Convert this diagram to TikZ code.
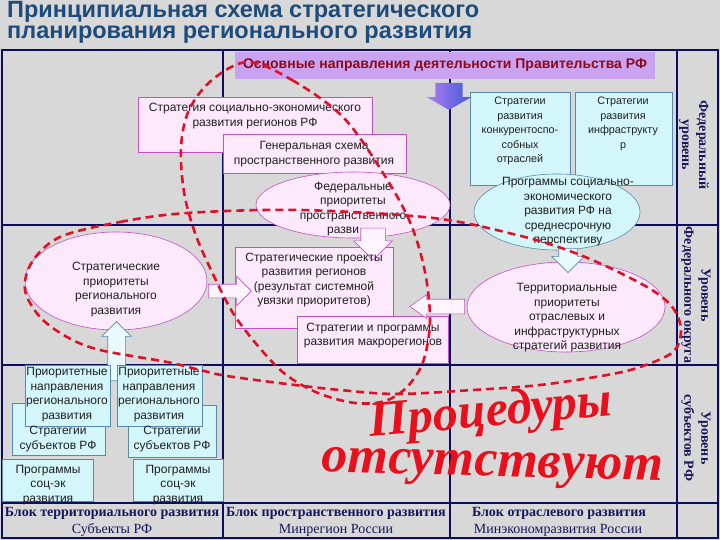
\documentclass[tikz,border=0pt]{standalone}
\usepackage{fontspec}
\setmainfont{Liberation Sans}
\newfontfamily\tnr{Liberation Serif}
\usetikzlibrary{shapes.geometric,shapes.arrows}
\definecolor{bgc}{HTML}{D8D8D8}
\definecolor{gridc}{HTML}{0C0C62}
\definecolor{titlec}{HTML}{1D4B7C}
\definecolor{banc}{HTML}{C9A3F2}
\definecolor{bantxt}{HTML}{8B0A1A}
\definecolor{pinkf}{HTML}{FCEAFC}
\definecolor{pinkd}{HTML}{C64FC6}
\definecolor{cyanf}{HTML}{D3F6FB}
\definecolor{cyand}{HTML}{5B88AE}
\definecolor{dashc}{HTML}{E01028}
\definecolor{procc}{HTML}{E8101C}
\definecolor{lblc}{HTML}{16165C}
\definecolor{arrv}{HTML}{B27CF2}
\definecolor{arrb}{HTML}{3F5CD6}
\begin{document}
\begin{tikzpicture}[x=1pt,y=-1pt,
 gridline/.style={gridc, line width=2.6pt},
 pbox/.style={draw=pinkd, fill=pinkf, line width=0.6pt, rectangle, inner sep=0pt},
 cbox/.style={draw=cyand, fill=cyanf, line width=0.6pt, rectangle, inner sep=0pt},
 pell/.style={draw=pinkd, fill=pinkf, line width=0.6pt, ellipse, inner sep=0pt},
 cell/.style={draw=cyand, fill=cyanf, line width=0.6pt, ellipse, inner sep=0pt},
 txt/.style={align=center, font=\fontsize{12}{14.5}\selectfont, text=black!88, inner sep=0pt},
 stxt/.style={align=center, font=\fontsize{10.8}{14.5}\selectfont, text=black!88, inner sep=0pt},
 lvl/.style={align=center, font=\tnr\bfseries\fontsize{14}{17}\selectfont, text=lblc, rotate=-90, inner sep=0pt},
 blkb/.style={align=center, text=lblc, inner sep=0pt, font=\tnr\bfseries\fontsize{14}{15}\selectfont},
 blkr/.style={align=center, text=lblc, inner sep=0pt, font=\tnr\fontsize{14}{15}\selectfont},
 redloop/.style={dashc, line width=2.6pt, dash pattern=on 8pt off 5pt},
 parr/.style={single arrow, draw=pinkd, fill=pinkf!50!white, line width=0.6pt, inner xsep=0pt},
 carr/.style={single arrow, draw=cyand, fill=cyanf!50!white, line width=0.6pt, inner xsep=0pt},
 wart/.style={text=procc, inner sep=0pt, anchor=base, font=\tnr\bfseries\itshape\fontsize{#1}{#1}\selectfont},
]
\useasboundingbox (0,0) rectangle (720,540);
\fill[bgc] (0,0) rectangle (720,540);

% title
\node[anchor=west, font=\bfseries\fontsize{23.5}{26}\selectfont, text=titlec, inner sep=0pt] (title1) at (7,12) {Принципиальная схема стратегического};
\node[anchor=west, font=\bfseries\fontsize{23.5}{26}\selectfont, text=titlec, inner sep=0pt] (title2) at (7,35) {планирования регионального развития};

% grid
\draw[gridline] (2,50) rectangle (718,538);
\draw[gridline] (223,50) -- (223,538);
\draw[gridline] (450,50) -- (450,538);
\draw[gridline] (677,50) -- (677,538);
\draw[gridline] (2,225) -- (718,225);
\draw[gridline] (2,365) -- (718,365);
\draw[gridline] (2,503) -- (718,503);

% banner and blue arrow
\node[fill=banc, minimum width=420, minimum height=27, inner sep=0pt, font=\bfseries\fontsize{14}{16}\selectfont, text=bantxt] (banner) at (445,65.5) {Основные направления деятельности Правительства РФ};
\node[single arrow, left color=arrv, right color=arrb, inner xsep=0pt, inner ysep=13.5, minimum height=27, single arrow head extend=8.5, single arrow tip angle=120, rotate=-90] (bluearr) at (449,92.5) {};

% shapes
\node[pbox, minimum width=234, minimum height=55, anchor=north west] (ssebox) at (138,97) {};
\node[pbox, minimum width=183, minimum height=39, anchor=north west] (genbox) at (223,134) {};
\node[cbox, minimum width=100, minimum height=93, anchor=north west] (konbox) at (470,92) {};
\node[cbox, minimum width=97, minimum height=93, anchor=north west] (infbox) at (575,92) {};
\node[cell, minimum width=166, minimum height=76] (progell) at (557,212) {};
\node[pell, minimum width=194, minimum height=66] (fedell) at (353,205) {};
\node[pbox, minimum width=158, minimum height=81, anchor=north west] (projbox) at (235,247) {};
\node[pbox, minimum width=151, minimum height=47, anchor=north west] (macbox) at (297,316) {};
\node[pell, minimum width=182, minimum height=98] (regell) at (116,281) {};
\node[pell, minimum width=198, minimum height=90] (terell) at (566,307) {};

% block arrows
\node[parr, inner ysep=12, minimum height=32, single arrow head extend=7, rotate=-90] (arrfed) at (373,238) {};
\node[parr, inner ysep=6.5, minimum height=43, single arrow head extend=8] (arrreg) at (226.5,291) {};
\node[parr, inner ysep=7, minimum height=55, single arrow head extend=4.5, single arrow tip angle=70, rotate=180] (arrter) at (442.5,306.5) {};
\node[carr, inner ysep=9, minimum height=24, single arrow head extend=7, rotate=-90] (arrprog) at (568,256) {};
\node[carr, inner ysep=8.5, minimum height=59, single arrow head extend=6, rotate=90] (arrsub) at (116.5,355.5) {};

% subjects row shapes
\node[cbox, minimum width=93, minimum height=52, anchor=north west] (strA) at (12,403) {};
\node[cbox, minimum width=88, minimum height=52, anchor=north west] (strB) at (128,405) {};
\node[cbox, minimum width=85, minimum height=61, anchor=north west] (priA) at (25,365) {};
\node[cbox, minimum width=85, minimum height=61, anchor=north west] (priB) at (117,365) {};
\node[cbox, minimum width=91, minimum height=42, anchor=north west] (prgA) at (2,459) {};
\node[cbox, minimum width=90, minimum height=42, anchor=north west] (prgB) at (133,459) {};
\draw[gridline] (2,503) -- (223,503);

% texts
\node[txt] (ssetxt) at (255,116) {Стратегия социально-экономического\\развития регионов РФ};
\node[txt] (gentxt) at (314,154) {Генеральная схема\\пространственного развития};
\node[stxt, anchor=north] (kontxt) at (520,97) {Стратегии\\развития\\конкурентоспо-\\собных\\отраслей};
\node[stxt, anchor=north] (inftxt) at (623,97) {Стратегии\\развития\\инфраструкту\\р};
\node[txt] (progtxt) at (568,212) {Программы социально-\\экономического\\развития РФ на\\среднесрочную\\перспективу};
\node[txt] (fedtxt) at (353,202) {Федеральные\\приоритеты\\пространственного};
\node[txt, anchor=west] (fedtxt2) at (327,232) {разви};
\node[txt] (projtxt) at (314,280) {Стратегические проекты\\развития регионов\\(результат системной\\увязки приоритетов)};
\node[txt] (mactxt) at (373,335.5) {Стратегии и программы\\развития макрорегионов};
\node[txt] (regtxt) at (116,289.5) {Стратегические\\приоритеты\\регионального\\развития};
\node[txt] (tertxt) at (567,318) {Территориальные\\приоритеты\\отраслевых и\\инфраструктурных\\стратегий развития};
\node[txt] (strAt) at (58,439) {Стратегии\\субъектов РФ};
\node[txt] (strBt) at (172,439) {Стратегии\\субъектов РФ};
\node[txt] (priAt) at (67,394.5) {Приоритетные\\направления\\регионального\\развития};
\node[txt] (priBt) at (159,394.5) {Приоритетные\\направления\\регионального\\развития};
\node[txt] (prgAt) at (48,485) {Программы\\соц-эк\\развития};
\node[txt] (prgBt) at (178,485) {Программы\\соц-эк\\развития};

% level labels
\node[lvl] (lv1) at (694,145) {Федеральный\\уровень};
\node[lvl] (lv2) at (696,295) {Уровень\\Федерального округа};
\node[lvl] (lv3) at (696,438) {Уровень\\субъектов РФ};

% block labels
\node[blkb] (bl1a) at (112,513) {Блок территориального развития};
\node[blkr] (bl1b) at (112,530) {Субъекты РФ};
\node[blkb] (bl2a) at (336,513) {Блок пространственного развития};
\node[blkr] (bl2b) at (336,530) {Минрегион России};
\node[blkb] (bl3a) at (559,513) {Блок отраслевого развития};
\node[blkr] (bl3b) at (558,530) {Минэкономразвития России};

% dashed loops
\draw[redloop] plot[smooth cycle, tension=0.55] coordinates {(248,62) (292,80) (343,117) (383,173) (410,222) (425,272) (430,322) (423,362) (407,387) (385,401) (355,403) (318,393) (285,374) (258,346) (233,313) (212,272) (195,233) (184,192) (181,147) (189,110) (212,80)};
\draw[redloop] plot[smooth cycle, tension=0.55] coordinates {(60,237) (120,222) (187,213) (300,210) (433,218) (517,235) (567,250) (610,268) (652,290) (673,308) (681,330) (673,352) (640,367) (607,375) (540,385) (473,390) (397,394) (340,390) (287,384) (227,376) (200,370) (167,362) (100,350) (67,337) (40,317) (25,290) (32,262)};

% word art
\node[wart=50, rotate=5] (proc1) at (492,426) {Процедуры};
\node[wart=52, rotate=-1.5] (proc2) at (492,476) {отсутствуют};
\end{tikzpicture}
\end{document}
